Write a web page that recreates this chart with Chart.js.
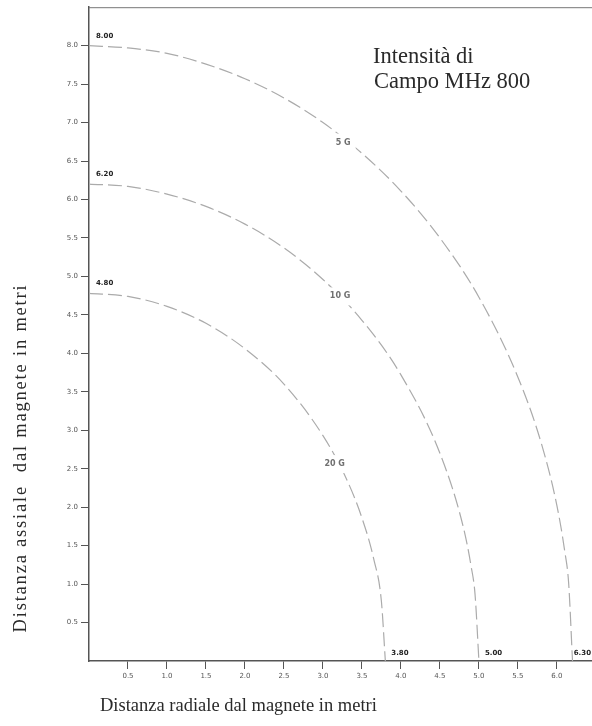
<!DOCTYPE html>
<html lang="it">

<head>
    <meta charset="UTF-8">
    <title>Intensità di Campo MHz 800</title>
    <style>
        html, body { margin: 0; padding: 0; background: #fff; }
        #wrap { width: 592px; height: 726px; }
    </style>
</head>

<body>
    <div id="wrap"><canvas id="ctx"></canvas></div>

    <script src="https://cdn.jsdelivr.net/npm/chart.js"></script>
    <script>
        // Curve 5 G, 10 G, 20 G (distanza radiale x, assiale y, in metri)
        const x5 = [0, 0.5, 1.0, 1.5, 2.0, 2.5, 3.0, 3.5, 4.0, 4.5, 5.0, 5.5, 5.8, 6.0, 6.1, 6.15, 6.2];
        const y5 = [8.0, 7.97, 7.90, 7.76, 7.57, 7.32, 7.00, 6.60, 6.11, 5.50, 4.73, 3.69, 2.83, 2.02, 1.43, 1.02, 0];

        const x10 = [0, 0.5, 1.0, 1.5, 2.0, 2.5, 3.0, 3.5, 4.0, 4.5, 4.8, 4.9, 4.95, 5.0];
        const y10 = [6.2, 6.17, 6.07, 5.91, 5.68, 5.37, 4.96, 4.43, 3.72, 2.70, 1.74, 1.23, 0.87, 0];

        const x20 = [0, 0.5, 1.0, 1.5, 2.0, 2.5, 3.0, 3.3, 3.5, 3.65, 3.75, 3.8];
        const y20 = [4.78, 4.74, 4.61, 4.39, 4.06, 3.60, 2.93, 2.37, 1.86, 1.33, 0.77, 0];

        const curveNames = ['5 G', '10 G', '20 G'];
        // dove sta la scritta sulla curva (x, y)
        const curveLabelAt = [[3.26, 6.74], [3.22, 4.74], [3.15, 2.56]];
        // valori scritti agli estremi
        const yEndLabels = ['8.00', '6.20', '4.80'];
        const xEndLabels = ['3.80', '5.00', '6.30'];

        const toPoints = (xs, ys) => xs.map((x, i) => ({ x: x, y: ys[i] }));

        const lineStyle = {
            borderColor: '#ababab',
            borderWidth: 1.2,
            borderDash: [14, 5],
            pointRadius: 0,
            fill: false,
            cubicInterpolationMode: 'monotone'
        };

        let datasets = [
            Object.assign({ label: curveNames[0], data: toPoints(x5, y5) }, lineStyle),
            Object.assign({ label: curveNames[1], data: toPoints(x10, y10) }, lineStyle),
            Object.assign({ label: curveNames[2], data: toPoints(x20, y20) }, lineStyle)
        ];

        // keep only the 0.5 steps, no label at 0
        function keepTicks(limit) {
            return function (scale) {
                scale.ticks = scale.ticks.filter(t =>
                    t.value > 0.01 && t.value <= limit + 1e-9 &&
                    Math.abs(t.value * 2 - Math.round(t.value * 2)) < 1e-6);
            };
        }

        // text drawn on top: titles, curve names, end values, top border
        const annotations = {
            id: 'annotations',
            afterDraw(chart) {
                const c = chart.ctx;
                const xs = chart.scales.x;
                const ys = chart.scales.y;
                const area = chart.chartArea;
                c.save();

                // top border
                c.strokeStyle = '#777';
                c.lineWidth = 1;
                c.beginPath();
                c.moveTo(area.left, area.top + 0.5);
                c.lineTo(area.right, area.top + 0.5);
                c.stroke();

                // curve names with white box cutting the line
                c.font = 'bold 8px "DejaVu Sans"';
                c.textAlign = 'center';
                c.textBaseline = 'middle';
                curveNames.forEach((name, i) => {
                    const px = xs.getPixelForValue(curveLabelAt[i][0]);
                    const py = ys.getPixelForValue(curveLabelAt[i][1]);
                    const w = c.measureText(name).width + 10;
                    c.fillStyle = '#fff';
                    c.fillRect(px - w / 2, py - 9, w, 18);
                    c.fillStyle = '#707070';
                    c.fillText(name, px, py);
                });

                // end values
                c.font = 'bold 7px "DejaVu Sans"';
                c.fillStyle = '#222';
                c.textAlign = 'left';
                c.textBaseline = 'alphabetic';
                [y5[0], y10[0], y20[0]].forEach((v, i) => {
                    c.fillText(yEndLabels[i], area.left + 7, ys.getPixelForValue(v) - 8);
                });
                [x20[x20.length - 1], x10[x10.length - 1], x5[x5.length - 1]].forEach((v, i) => {
                    const w = c.measureText(xEndLabels[i]).width;
                    const px = Math.min(xs.getPixelForValue(v) + 6, area.right - w - 1);
                    c.fillText(xEndLabels[i], px, area.bottom - 6);
                });

                // title box
                c.font = '22.5px "Liberation Serif"';
                c.fillStyle = '#2a2a2a';
                c.fillText('Intensità di', 373, 63);
                c.fillText('Campo MHz 800', 374, 88);

                // axis titles
                c.font = '18.5px "Liberation Serif"';
                c.fillText('Distanza radiale dal magnete in metri', 100, 711);
                c.translate(26, 458);
                c.rotate(-Math.PI / 2);
                c.textAlign = 'center';
                c.letterSpacing = '1.8px';
                c.fillText('Distanza assiale  dal magnete in metri', 0, 0);

                c.restore();
            }
        };

        const tickFont = { family: 'DejaVu Sans', size: 7 };

        let options = {
            responsive: true,
            maintainAspectRatio: false,
            animation: false,
            layout: { padding: { top: 6, right: 0, bottom: 0, left: 0 } },
            plugins: {
                legend: { display: false },
                tooltip: { enabled: false }
            },
            scales: {
                x: {
                    type: 'linear',
                    min: 0,
                    max: 6.45,
                    afterBuildTicks: keepTicks(6.0),
                    afterFit: s => { s.height = 65; },
                    ticks: {
                        stepSize: 0.5,
                        color: '#555',
                        font: tickFont,
                        padding: 3,
                        maxRotation: 0,
                        callback: v => v.toFixed(1)
                    },
                    grid: { drawOnChartArea: false, tickLength: 8, color: '#555' },
                    border: { color: '#555', width: 1.5 }
                },
                y: {
                    type: 'linear',
                    min: 0,
                    max: 8.5,
                    afterBuildTicks: keepTicks(8.0),
                    afterFit: s => { s.width = 89; },
                    ticks: {
                        stepSize: 0.5,
                        color: '#555',
                        font: tickFont,
                        padding: 3,
                        callback: v => v.toFixed(1)
                    },
                    grid: { drawOnChartArea: false, tickLength: 8, color: '#555' },
                    border: { color: '#555', width: 1.5 }
                }
            }
        };

        const ctx = document.getElementById('ctx').getContext('2d');
        let myChart = new Chart(ctx, {
            type: 'line',
            data: { datasets: datasets },
            options: options,
            plugins: [annotations]
        });
    </script>
</body>

</html>
